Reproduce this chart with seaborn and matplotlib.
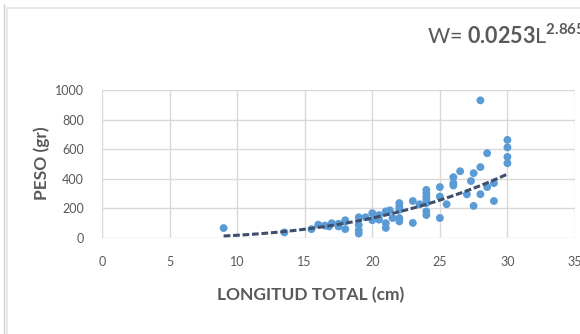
import numpy as np
import pandas as pd
import seaborn as sns
import matplotlib.pyplot as plt
from matplotlib.lines import Line2D
from matplotlib.patches import Rectangle

sns.set_style("white")
plt.rcParams['font.family'] = ['Lato', 'DejaVu Sans']
plt.rcParams['mathtext.fontset'] = 'custom'
plt.rcParams['mathtext.rm'] = 'Lato'
plt.rcParams['mathtext.bf'] = 'Lato:bold'

# datos
longitud = [9, 13.5, 15.5, 16, 16.5, 16.8, 17, 17.5, 17.5, 18, 18, 18,
            19, 19, 19, 19, 19.5, 20, 20, 20.5, 20.5, 21, 21, 21, 21.3, 21.5,
            22, 22, 22, 22, 22, 23, 23, 23.5, 24, 24, 24, 24, 24, 24, 24,
            25, 25, 25, 25.5, 26, 26, 26, 26.5, 27, 27.3, 27.5, 27.5,
            28, 28, 28, 28.5, 28.5, 29, 29, 30, 30, 30, 30]
peso = [67, 38, 60, 90, 84, 78, 100, 96, 78, 120, 112, 60,
        140, 88, 52, 30, 140, 168, 120, 155, 124, 180, 100, 68, 187, 135,
        236, 213, 191, 135, 112, 250, 102, 228, 325, 303, 280, 258, 236, 180, 155,
        344, 280, 135, 228, 411, 370, 355, 451, 295, 385, 438, 217,
        930, 479, 296, 573, 344, 371, 250, 663, 612, 548, 505]

# coeficientes de la ecuacion W = a L^b
a = 0.0253
b = 2.8651
L_min, L_max = 9, 30

df = pd.DataFrame({'L': longitud, 'W': peso})
Lt = np.linspace(L_min, L_max, 100)
tend = pd.DataFrame({'L': Lt, 'W': a * Lt ** b})

gris = '#595959'
fig = plt.figure(figsize=(5.8, 3.34), dpi=100)
ax = fig.add_axes([102 / 580, 1 - 238 / 334, 473 / 580, 148 / 334])

sns.scatterplot(data=df, x='L', y='W', ax=ax, color='#5B9BD5', s=32,
                edgecolor='none', zorder=3)
sns.lineplot(data=tend, x='L', y='W', ax=ax, color='#3E4F6E', lw=2.2,
             zorder=4)
ax.lines[0].set_dashes([2.2, 0.9])

ax.set_xlim(0, 35)
ax.set_ylim(0, 1000)
ax.set_xticks(range(0, 36, 5))
ax.set_yticks(range(0, 1001, 200))
ax.grid(True, color='#D9D9D9', lw=1)
ax.set_axisbelow(True)
for s in ax.spines.values():
    s.set_visible(False)
ax.tick_params(length=0, labelsize=9, labelcolor=gris)
ax.tick_params(axis='x', pad=13)
ax.tick_params(axis='y', pad=13)
ax.set_xlabel('')
ax.set_ylabel('')

fig.text(311 / 580, 1 - 295 / 334, 'LONGITUD TOTAL (cm)', ha='center',
         va='center', fontsize=12.5, fontweight='bold', color=gris)
fig.text(42 / 580, 1 - 163 / 334, 'PESO (gr)', ha='center', va='center',
         rotation=90, fontsize=12.5, fontweight='bold', color=gris)
fig.text(427 / 580, 1 - 44 / 334,
         r'W= $\mathbf{0.0253}\mathrm{L}^{\mathbf{2.8651}}$',
         ha='left', va='baseline', fontsize=15.5, color=gris)

# marco del grafico
fig.add_artist(Rectangle((7 / 580, -0.1), 1.0, 1 - 8 / 334 + 0.1,
                         transform=fig.transFigure, fill=False,
                         edgecolor='#E6E4DA', lw=1.2))
fig.add_artist(Line2D([4 / 580, 4 / 580], [0, 1 - 4 / 334],
                      transform=fig.transFigure, color='#D0D0D0', lw=1))

fig.savefig('out.png', dpi=100)
